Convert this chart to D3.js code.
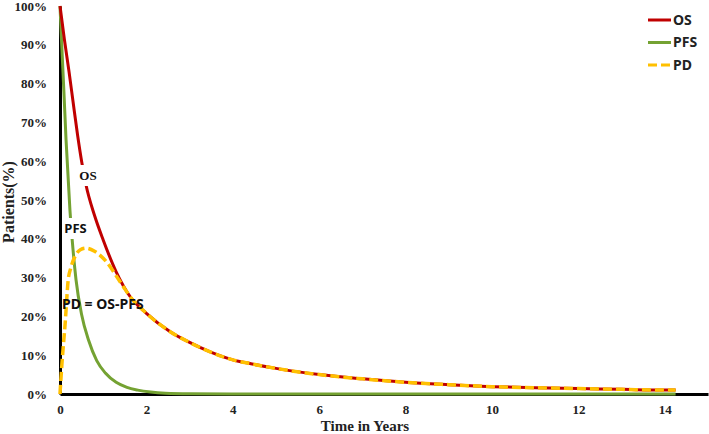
<!DOCTYPE html>
<html>
<head>
<meta charset="utf-8">
<script src="https://cdn.jsdelivr.net/npm/d3@7"></script>
<style>
  body { margin: 0; background: #fff; }
</style>
</head>
<body>
<div id="chart"></div>
<script>
// Values (time in years, patients in %)
const osTime   = [0, 0.1, 0.21, 0.3, 0.41, 0.5, 0.6, 0.8, 1.0, 1.3, 1.63, 2.0, 2.56, 3.0, 3.49, 4.0, 4.42, 5.0, 6.0, 7.0, 8.0, 9.0, 10.0, 11.0, 12.0, 13.0, 14.0, 14.25];
const osValue  = [100, 91.5, 83, 75.5, 66.5, 60, 54, 46, 39.7, 31.5, 25, 20.8, 16, 13.3, 10.8, 8.8, 7.8, 6.6, 5.0, 3.9, 3.0, 2.4, 1.9, 1.6, 1.4, 1.2, 1.0, 1.0];

const pfsTime  = [0, 0.04, 0.09, 0.14, 0.23, 0.3, 0.37, 0.5, 0.66, 0.85, 1.05, 1.3, 1.55, 1.8, 2.1, 2.44, 3.0, 4.0, 14.25];
const pfsValue = [100, 90, 78, 65.5, 47.4, 37.4, 29.5, 20.5, 13.9, 8.6, 5.4, 3, 1.7, 1, 0.5, 0.2, 0.05, 0, 0];

const pdTime   = [0, 0.04, 0.12, 0.19, 0.25, 0.35, 0.47, 0.6, 0.8, 1.08, 1.3, 1.47, 1.63, 2.0, 2.56, 3.0, 3.49, 4.0, 4.42, 5.0, 6.0, 7.0, 8.0, 9.0, 10.0, 11.0, 12.0, 13.0, 14.0, 14.25];
const pdValue  = [0, 7, 18.3, 29.4, 32.5, 35.5, 37.2, 37.6, 36.8, 34, 30.5, 27.6, 25, 20.8, 16, 13.3, 10.8, 8.8, 7.8, 6.6, 5.0, 3.9, 3.0, 2.4, 1.9, 1.6, 1.4, 1.2, 1.0, 1.0];

const xTicks = [0, 2, 4, 6, 8, 10, 12, 14];
const yTicks = [0, 10, 20, 30, 40, 50, 60, 70, 80, 90, 100];

const seriesNames = ["OS", "PFS", "PD"];
const colors = {OS: "#c00000", PFS: "#74a232", PD: "#ffc000"};

const width = 709, height = 434;
const margin = {top: 6, bottom: 40, left: 60, right: 1};

const svg = d3.select("#chart")
    .append("svg")
    .attr("width", width)
    .attr("height", height);

const xScale = d3.scaleLinear()
    .domain([0, 15])
    .range([margin.left, 708]);

const yScale = d3.scaleLinear()
    .domain([0, 100])
    .range([height - margin.bottom, margin.top]);

// y axis
const yAxis = svg.append("g")
    .attr("transform", `translate(${margin.left},0)`)
    .call(d3.axisLeft(yScale).tickValues(yTicks).tickSize(0).tickSizeOuter(0).tickPadding(13).tickFormat(d => d + "%"));

// x axis
const xAxis = svg.append("g")
    .attr("transform", `translate(0,${height - margin.bottom})`)
    .call(d3.axisBottom(xScale).tickValues(xTicks).tickSize(0).tickSizeOuter(0).tickPadding(11));

[yAxis, xAxis].forEach(g => {
    g.select(".domain").attr("stroke", "#000").attr("stroke-width", 3);
    g.selectAll("text")
        .style("font-family", "'Liberation Serif', 'Times New Roman', serif")
        .style("font-weight", "bold")
        .style("font-size", "13px")
        .attr("fill", "#222");
});

// axis titles
svg.append("text")
    .attr("x", 365)
    .attr("y", 431)
    .text("Time in Years")
    .style("text-anchor", "middle")
    .style("font-family", "'Liberation Serif', serif")
    .style("font-weight", "bold")
    .style("font-size", "15px")
    .attr("fill", "#222");

svg.append("text")
    .attr("x", -202)
    .attr("y", 14)
    .text("Patients(%)")
    .style("text-anchor", "middle")
    .style("font-family", "'Liberation Serif', serif")
    .style("font-weight", "bold")
    .style("font-size", "16px")
    .attr("fill", "#222")
    .attr("transform", "rotate(-90)");

// lines
const line = d3.line()
    .x(d => xScale(d[0]))
    .y(d => yScale(d[1]))
    .curve(d3.curveMonotoneX);

const pfsData = d3.zip(pfsTime, pfsValue);
const osData = d3.zip(osTime, osValue);
const pdData = d3.zip(pdTime, pdValue);

svg.append("path")
    .datum(pfsData)
    .attr("d", line)
    .attr("fill", "none")
    .attr("stroke", colors.PFS)
    .attr("stroke-width", 3);

svg.append("path")
    .datum(osData)
    .attr("d", line)
    .attr("fill", "none")
    .attr("stroke", colors.OS)
    .attr("stroke-width", 3);

svg.append("path")
    .datum(pdData)
    .attr("d", line)
    .attr("fill", "none")
    .attr("stroke", colors.PD)
    .attr("stroke-width", 3.5)
    .attr("stroke-dasharray", "9,4");

// in-plot labels (OS and PFS sit on a white box that breaks the line)
svg.append("rect").attr("x", 78).attr("y", 165).attr("width", 21).attr("height", 21).attr("fill", "#fff");
svg.append("text")
    .attr("x", 88).attr("y", 180)
    .text("OS")
    .style("text-anchor", "middle")
    .style("font-family", "'Liberation Serif', serif")
    .style("font-weight", "bold")
    .style("font-size", "13px")
    .attr("fill", "#111");

svg.append("rect").attr("x", 63).attr("y", 218).attr("width", 25).attr("height", 21).attr("fill", "#fff");
svg.append("text")
    .attr("x", 75.5).attr("y", 233)
    .text("PFS")
    .style("text-anchor", "middle")
    .style("font-family", "'Noto Sans', sans-serif")
    .style("font-weight", "bold")
    .style("font-size", "13px")
    .attr("fill", "#111");

svg.append("text")
    .attr("x", 62).attr("y", 309)
    .text("PD = OS-PFS")
    .style("font-family", "'Noto Sans', sans-serif")
    .style("font-weight", "bold")
    .style("font-size", "14px")
    .attr("fill", "#111");

// legend
const legend = svg.selectAll(".legend")
    .data(seriesNames)
    .enter().append("g")
    .attr("class", "legend")
    .attr("transform", (d, i) => `translate(0,${20 + i * 22.5})`);

legend.append("line")
    .attr("x1", 648)
    .attr("x2", 671)
    .attr("stroke", d => colors[d])
    .attr("stroke-width", 3)
    .attr("stroke-dasharray", d => d === "PD" ? "9,4" : null);

legend.append("text")
    .attr("x", 673)
    .attr("dy", "0.35em")
    .text(d => d)
    .style("font-family", "'Noto Sans', sans-serif")
    .style("font-weight", "bold")
    .style("font-size", "14px")
    .attr("fill", "#222");
</script>
</body>
</html>
